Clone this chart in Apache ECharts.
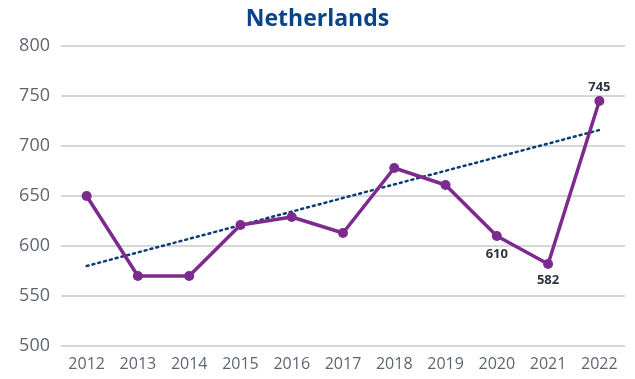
<!DOCTYPE html>
<html>
<head>
<meta charset="utf-8">
<script src="https://cdn.jsdelivr.net/npm/echarts@6/dist/echarts.min.js"></script>
<style>
  html, body { margin: 0; padding: 0; background: #fff; }
  #chart { width: 635px; height: 379px; }
</style>
</head>
<body>
<div id="chart"></div>
<script>
const years = ['2012', '2013', '2014', '2015', '2016', '2017', '2018', '2019', '2020', '2021', '2022'];
const values = [650, 570, 570, 621, 629, 613, 678, 661, 610, 582, 745];
// Linear trend endpoints (first and last year)
const trendYears = ['2012', '2022'];
const trendValues = [580, 716];
// Years whose value is printed next to the point: side and gap
const labelledYears = {
  '2020': { position: 'bottom', distance: 7 },
  '2021': { position: 'bottom', distance: 5 },
  '2022': { position: 'top', distance: 2 }
};

const chart = echarts.init(document.getElementById('chart'), null, { renderer: 'canvas' });

const lineData = values.map((v, i) => {
  const lab = labelledYears[years[i]];
  const item = { value: v };
  if (lab) {
    item.label = {
      show: true,
      position: lab.position,
      distance: lab.distance,
      formatter: '{c}',
      color: '#2b3440',
      fontWeight: 'bold',
      fontSize: 13,
      fontFamily: 'Open Sans'
    };
  }
  return item;
});

chart.setOption({
  animation: false,
  title: {
    text: 'Netherlands',
    left: 'center',
    top: 3,
    textStyle: { color: '#0b4387', fontSize: 23, fontWeight: 'bold', fontFamily: 'Open Sans' }
  },
  grid: { left: 61, right: 10, top: 46, bottom: 33 },
  xAxis: {
    type: 'category',
    data: years,
    boundaryGap: true,
    axisLine: { show: false },
    axisTick: { show: false },
    axisLabel: { color: '#5f6670', fontSize: 16, fontFamily: 'Open Sans', margin: 10 }
  },
  yAxis: {
    type: 'value',
    min: 500,
    max: 800,
    interval: 50,
    axisLine: { show: false },
    axisTick: { show: false },
    axisLabel: { color: '#5f6670', fontSize: 18, fontFamily: 'Open Sans', margin: 11 },
    splitLine: { lineStyle: { color: '#c8c8c8', width: 1.5 } }
  },
  series: [
    {
      type: 'line',
      data: trendYears.map((y, i) => [y, trendValues[i]]),
      symbol: 'none',
      lineStyle: { color: '#0a3d73', width: 2.5, type: [2, 4], cap: 'round' },
      z: 1
    },
    {
      type: 'line',
      data: lineData,
      symbol: 'circle',
      symbolSize: 10,
      itemStyle: { color: '#7d2a8f' },
      lineStyle: { color: '#7d2a8f', width: 3.5 },
      z: 2
    }
  ]
});
</script>
</body>
</html>
